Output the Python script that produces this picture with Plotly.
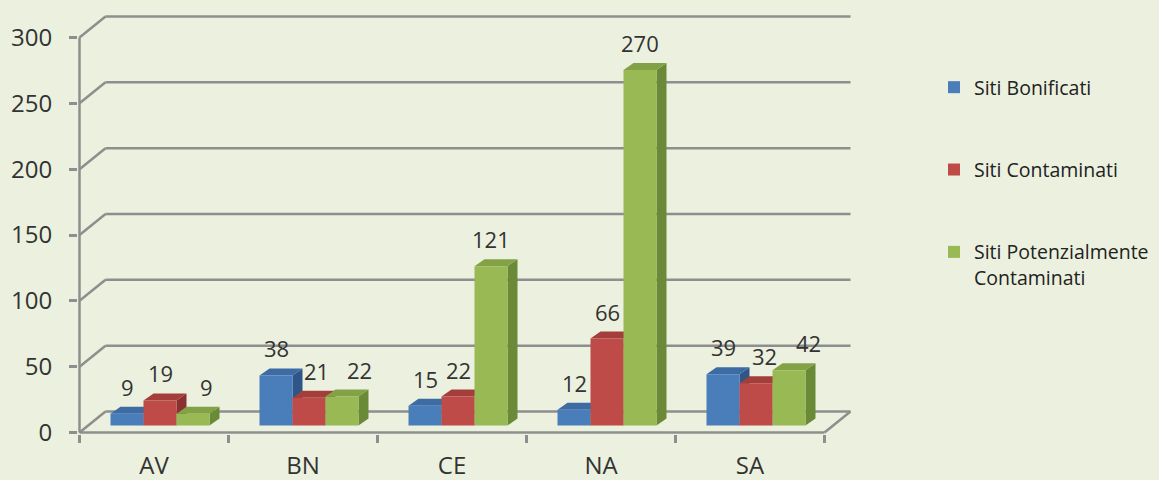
import plotly.graph_objects as go

# ---------------- data ----------------
categories = ["AV", "BN", "CE", "NA", "SA"]
siti_bonificati = [9, 38, 15, 12, 39]
siti_contaminati = [19, 21, 22, 66, 32]
siti_potenzialmente_contaminati = [9, 22, 121, 270, 42]
series_names = ["Siti Bonificati", "Siti Contaminati", "Siti Potenzialmente<br>Contaminati"]
y_tick_values = [0, 50, 100, 150, 200, 250, 300]

series_values = [siti_bonificati, siti_contaminati, siti_potenzialmente_contaminati]

# ---------------- style ----------------
front_colors = ["#4A7EBB", "#BE4B48", "#98B954"]
top_colors = ["#3D6BA3", "#A43E3B", "#83A246"]
side_colors = ["#2F5689", "#8A302E", "#6A8A37"]
BG = "#EBF1DE"
GRID = "#8E8E8E"
TEXT = "#333333"
FONT = "Open Sans"

PX_CAT = 149.0            # pixels per category
PX_UNIT = 395.0 / 300.0   # pixels per value unit
WALL_DX = 26 / PX_CAT
WALL_DY = 21 / PX_UNIT
BAR_W = 33 / PX_CAT
BAR_OFF0 = -43.5 / PX_CAT
BAR_BASE = 7 / PX_UNIT
BAR_DX = 10 / PX_CAT
BAR_DY = 7 / PX_UNIT
PAD = 1.5

n = len(categories)
xpos = list(range(n))
x_range = [-0.5 - PAD / PX_CAT, n - 0.5 + WALL_DX + PAD / PX_CAT]
y_range = [-PAD / PX_UNIT, max(y_tick_values) + WALL_DY + PAD / PX_UNIT]
plot_w = (x_range[1] - x_range[0]) * PX_CAT
plot_h = (y_range[1] - y_range[0]) * PX_UNIT
W, H = 1159, 480
m_l = 78
m_b = 46
m_r = W - m_l - plot_w
m_t = H - m_b - plot_h

fig = go.Figure()

# bars (front faces)
for j, (name, vals) in enumerate(zip(series_names, series_values)):
    fig.add_trace(go.Bar(
        x=xpos, y=vals, base=BAR_BASE, name=name,
        width=BAR_W, offset=BAR_OFF0 + j * BAR_W,
        marker=dict(color=front_colors[j], line=dict(width=0)),
        legendgroup=f"g{j}", hoverinfo="skip",
    ))

shapes = []
line_style = dict(color=GRID, width=2.5)
# back wall gridlines + side diagonals
for t in y_tick_values:
    shapes.append(dict(type="line", xref="x", yref="y", layer="below",
                       x0=-0.5 + WALL_DX, x1=n - 0.5 + WALL_DX,
                       y0=t + WALL_DY, y1=t + WALL_DY, line=line_style))
    shapes.append(dict(type="line", xref="x", yref="y", layer="below",
                       x0=-0.5, x1=-0.5 + WALL_DX, y0=t, y1=t + WALL_DY, line=line_style))
# front axis line and floor
shapes.append(dict(type="line", xref="x", yref="y", layer="below",
                   x0=-0.5, x1=-0.5, y0=0, y1=max(y_tick_values), line=line_style))
shapes.append(dict(type="line", xref="x", yref="y", layer="below",
                   x0=-0.5, x1=n - 0.5, y0=0, y1=0, line=line_style))
shapes.append(dict(type="line", xref="x", yref="y", layer="below",
                   x0=n - 0.5, x1=n - 0.5 + WALL_DX, y0=0, y1=WALL_DY, line=line_style))

# 3D side/top faces of bars, computed from the data
for i in range(n):
    for j, vals in enumerate(series_values):
        x0 = i + BAR_OFF0 + j * BAR_W
        x1 = x0 + BAR_W
        yb = BAR_BASE
        yt = BAR_BASE + vals[i]
        side = (f"M {x1},{yb} L {x1 + BAR_DX},{yb + BAR_DY} "
                f"L {x1 + BAR_DX},{yt + BAR_DY} L {x1},{yt} Z")
        top = (f"M {x0},{yt} L {x0 + BAR_DX},{yt + BAR_DY} "
               f"L {x1 + BAR_DX},{yt + BAR_DY} L {x1},{yt} Z")
        shapes.append(dict(type="path", path=side, xref="x", yref="y", layer="below",
                           fillcolor=side_colors[j], line=dict(width=0)))
        shapes.append(dict(type="path", path=top, xref="x", yref="y", layer="below",
                           fillcolor=top_colors[j], line=dict(width=0)))

# data labels (a few nudged sideways to avoid overlap, as in the original)
label_nudge = {(0, 2): 13, (1, 1): 7, (1, 2): 17, (4, 1): 8, (4, 2): 19}
annotations = []
for i in range(n):
    for j, vals in enumerate(series_values):
        xc = i + BAR_OFF0 + (j + 0.5) * BAR_W
        annotations.append(dict(
            x=xc, y=BAR_BASE + vals[i] + BAR_DY, xref="x", yref="y",
            text=str(vals[i]), showarrow=False, yshift=20,
            xshift=label_nudge.get((i, j), 0),
            font=dict(family=FONT, size=22, color=TEXT),
        ))

fig.update_layout(
    width=W, height=H,
    margin=dict(l=m_l, r=m_r, t=m_t, b=m_b, pad=0, autoexpand=False),
    paper_bgcolor=BG, plot_bgcolor=BG,
    barmode="overlay",
    shapes=shapes, annotations=annotations,
    font=dict(family=FONT, color=TEXT),
    showlegend=True,
    legend=dict(
        x=(934 - m_l) / plot_w, xanchor="left",
        y=(H - m_b - 68) / plot_h, yanchor="top",
        font=dict(family=FONT, size=19.5, color="#222222"),
        traceorder="grouped", tracegroupgap=54, valign="top",
        bgcolor="rgba(0,0,0,0)",
    ),
    xaxis=dict(
        range=x_range, tickmode="array", tickvals=xpos, ticktext=categories,
        ticks="", showgrid=False, zeroline=False, showline=False, automargin=False,
        tickfont=dict(family=FONT, size=24, color=TEXT),
        ticklabelstandoff=15,
        minor=dict(tickmode="array", tickvals=[k - 0.5 for k in range(n + 1)],
                   ticks="outside", ticklen=8, tickwidth=2.5, tickcolor=GRID, showgrid=False),
    ),
    yaxis=dict(
        range=y_range, tickmode="array", tickvals=y_tick_values,
        ticks="outside", ticklen=8, tickwidth=2.5, tickcolor=GRID,
        showgrid=False, zeroline=False, showline=False, automargin=False,
        tickfont=dict(family=FONT, size=24, color=TEXT),
        ticklabelstandoff=12,
    ),
)

fig.write_html(
    "out.html",
    config={"displayModeBar": False},
    post_script="document.body.style.margin='0';document.body.style.background='" + BG + "';",
)
